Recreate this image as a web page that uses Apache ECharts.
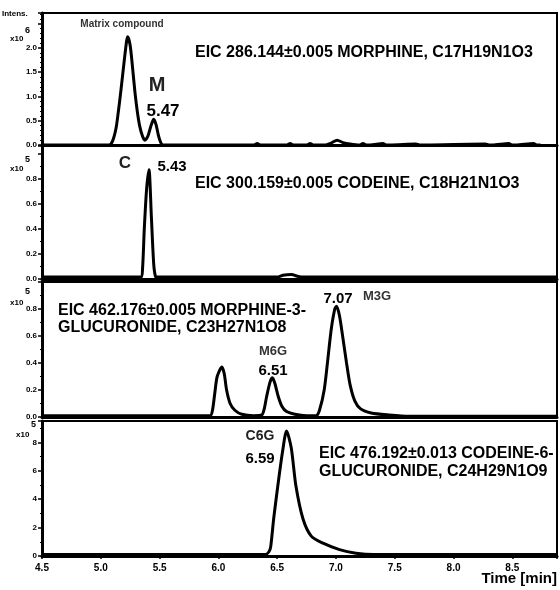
<!DOCTYPE html>
<html>
<head>
<meta charset="utf-8">
<script src="https://cdn.jsdelivr.net/npm/echarts@6/dist/echarts.min.js"></script>
<style>
  html, body { margin: 0; padding: 0; background: #fff; }
  #main { width: 560px; height: 590px; }
</style>
</head>
<body>
<div id="main"></div>
<script>
// retention time (min) and intensity, one pair per trace
const morphineTime = [4.5, 5.07, 5.1, 5.13, 5.15, 5.17, 5.2, 5.22, 5.23, 5.25, 5.27, 5.29, 5.31, 5.33, 5.355, 5.375, 5.4, 5.43, 5.45, 5.47, 5.49, 5.51, 5.53, 6.3, 6.33, 6.36, 6.58, 6.61, 6.64, 6.75, 6.78, 6.81, 6.9, 6.96, 7.01, 7.06, 7.12, 7.2, 7.23, 7.26, 7.29, 7.4, 7.43, 7.46, 7.68, 7.71, 7.74, 8.27, 8.3, 8.33, 8.47, 8.5, 8.53, 8.68, 8.71, 8.74, 8.88]
const morphineInt = [0, 0, 0.08, 0.35, 0.7, 1.1, 1.75, 2.15, 2.23, 2.05, 1.6, 1.1, 0.7, 0.4, 0.18, 0.1, 0.18, 0.42, 0.53, 0.42, 0.2, 0.05, 0, 0, 0.03, 0, 0, 0.03, 0, 0, 0.03, 0, 0, 0.04, 0.1, 0.05, 0.02, 0, 0.03, 0, 0, 0.03, 0, 0, 0.02, 0, 0, 0.02, 0, 0, 0.03, 0, 0, 0.03, 0, 0]

const codeineTime = [4.5, 5.34, 5.355, 5.37, 5.39, 5.41, 5.43, 5.45, 5.465, 5.48, 6.5, 6.55, 6.62, 6.68, 6.72, 8.88]
const codeineInt = [0.015, 0.015, 0.08, 0.4, 0.72, 0.87, 0.5, 0.12, 0.02, 0.015, 0.015, 0.03, 0.035, 0.02, 0.015, 0.015]

const m3gTime = [4.5, 5.93, 5.95, 5.97, 5.99, 6.03, 6.05, 6.07, 6.1, 6.14, 6.2, 6.3, 6.37, 6.39, 6.41, 6.44, 6.46, 6.48, 6.51, 6.54, 6.58, 6.65, 6.75, 6.83, 6.86, 6.9, 6.93, 6.96, 6.99, 7.005, 7.03, 7.06, 7.09, 7.12, 7.16, 7.21, 7.3, 7.45, 7.62, 8.88]
const m3gInt = [0.01, 0.01, 0.05, 0.18, 0.3, 0.37, 0.32, 0.2, 0.1, 0.05, 0.02, 0.01, 0.015, 0.06, 0.15, 0.26, 0.29, 0.25, 0.15, 0.08, 0.04, 0.02, 0.01, 0.01, 0.05, 0.2, 0.42, 0.65, 0.8, 0.82, 0.75, 0.58, 0.4, 0.24, 0.12, 0.06, 0.03, 0.015, 0.005, 0.005]

const c6gTime = [4.5, 6.4, 6.43, 6.445, 6.47, 6.505, 6.545, 6.58, 6.62, 6.66, 6.72, 6.79, 6.89, 7.03, 7.17, 7.32, 8.88]
const c6gInt = [0.1, 0.1, 0.3, 0.64, 2.6, 4.9, 7.3, 8.8, 7.6, 4.9, 2.6, 1.4, 0.9, 0.45, 0.2, 0.1, 0.1]

const xTicks = [4.5, 5.0, 5.5, 6.0, 6.5, 7.0, 7.5, 8.0, 8.5]
const yMax = [2.72, 1.06, 1.0, 9.5]
const yStep = [0.5, 0.2, 0.2, 2]
const yLabelTop = [2.0, 0.8, 0.8, 8]
const yMinorSplit = [5, 2, 2, 2]
const expLabels = ['6', '5', '5', '5']

const FONT = '"Liberation Sans", Arial, sans-serif'
const chart = echarts.init(document.getElementById('main'))

const grids = [
  { left: 42, right: 3, top: 13, height: 132 },
  { left: 42, right: 3, top: 146, height: 133 },
  { left: 42, right: 3, top: 282, height: 135 },
  { left: 42, right: 3, top: 421, height: 135 }
].map(g => Object.assign(g, { show: true, borderColor: '#000', borderWidth: 2 }))

const xAxes = grids.map((g, i) => {
  const last = i === 3
  return {
    type: 'value',
    gridIndex: i,
    min: 4.5,
    max: 8.88,
    interval: 0.5,
    axisLine: { lineStyle: { color: '#000', width: 3 } },
    axisTick: { show: last, length: 3, lineStyle: { color: '#000', width: 1.5 } },
    minorTick: { show: last, splitNumber: 5, length: 2, lineStyle: { color: '#000' } },
    splitLine: { show: false },
    axisLabel: {
      show: last,
      margin: 7,
      color: '#000',
      fontFamily: FONT,
      fontWeight: 'bold',
      fontSize: 10,
      formatter: v => xTicks.some(t => Math.abs(t - v) < 1e-6) ? v.toFixed(1) : ''
    }
  }
})

const yAxes = grids.map((g, i) => ({
  type: 'value',
  gridIndex: i,
  min: 0,
  max: yMax[i],
  interval: yStep[i],
  axisLine: { show: true, lineStyle: { color: '#000', width: 3 } },
  axisTick: { show: true, length: 4, lineStyle: { color: '#000', width: 1.5 } },
  minorTick: { show: true, splitNumber: yMinorSplit[i], length: 2, lineStyle: { color: '#000' } },
  splitLine: { show: false },
  axisLabel: {
    margin: 5,
    color: '#000',
    fontFamily: FONT,
    fontWeight: 'bold',
    fontSize: 8,
    formatter: v => {
      if (v > yLabelTop[i] + 1e-6) return ''
      return i === 3 ? String(Math.round(v)) : v.toFixed(1)
    }
  }
}))

const traces = [
  [morphineTime, morphineInt],
  [codeineTime, codeineInt],
  [m3gTime, m3gInt],
  [c6gTime, c6gInt]
]

const series = traces.map((tr, i) => ({
  type: 'line',
  xAxisIndex: i,
  yAxisIndex: i,
  data: tr[0].map((t, k) => [t, tr[1][k]]),
  showSymbol: false,
  smooth: 0.25,
  lineStyle: { color: '#000', width: 3 },
  silent: true
}))

function txt (s, x, y, size, align, fill) {
  return {
    type: 'text',
    x: x,
    y: y,
    style: {
      text: s,
      font: 'bold ' + size + 'px ' + FONT,
      fill: fill || '#000',
      align: align || 'center',
      verticalAlign: 'middle'
    }
  }
}

const expY = [[31, 39], [160, 169], [292, 303], [425, 435]]
const graphics = [
  txt('Intens.', 2, 14, 8, 'left'),
  txt('Matrix compound', 122, 24, 10, 'center', '#333'),
  txt('M', 157, 85, 20, 'center', '#222'),
  txt('5.47', 163, 111, 17),
  txt('EIC 286.144±0.005 MORPHINE, C17H19N1O3', 195, 53, 16, 'left'),
  txt('C', 125, 163, 17, 'center', '#222'),
  txt('5.43', 172, 167, 15),
  txt('EIC 300.159±0.005 CODEINE, C18H21N1O3', 195, 184, 16, 'left'),
  txt('EIC 462.176±0.005 MORPHINE-3-', 58, 311, 16, 'left'),
  txt('GLUCURONIDE, C23H27N1O8', 58, 328, 16, 'left'),
  txt('7.07', 338, 299, 15),
  txt('M3G', 377, 296, 13, 'center', '#333'),
  txt('M6G', 273, 351, 13, 'center', '#333'),
  txt('6.51', 273, 371, 15),
  txt('C6G', 260, 436, 14, 'center', '#222'),
  txt('6.59', 260, 459, 15),
  txt('EIC 476.192±0.013 CODEINE-6-', 319, 454, 16, 'left'),
  txt('GLUCURONIDE, C24H29N1O9', 319, 472, 16, 'left'),
  txt('Time [min]', 557, 579, 15, 'right')
]
expY.forEach((p, i) => {
  const xs = i === 3 ? 16 : 10
  graphics.push(txt('x10', xs, p[1], 8, 'left'))
  graphics.push(txt(expLabels[i], xs + 15, p[0], 9, 'left'))
})

chart.setOption({
  animation: false,
  backgroundColor: '#fff',
  grid: grids,
  xAxis: xAxes,
  yAxis: yAxes,
  series: series,
  graphic: graphics
})
</script>
</body>
</html>
